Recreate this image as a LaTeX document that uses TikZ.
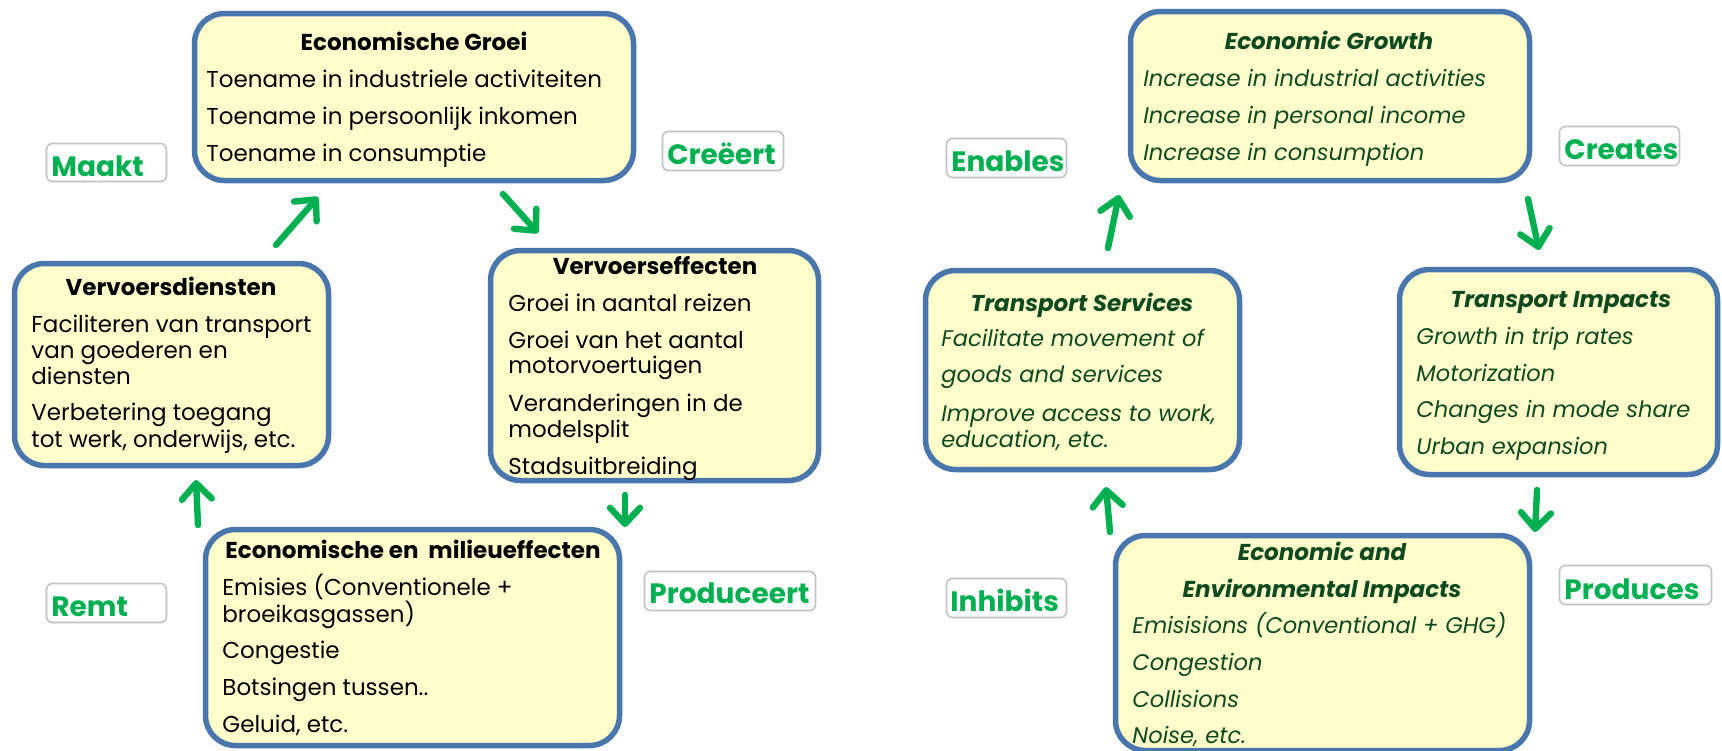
\documentclass[tikz,border=0pt]{standalone}
\usepackage{fontspec}
\setmainfont{Poppins}
\usetikzlibrary{arrows.meta}
\definecolor{boxfill}{RGB}{255,255,204}
\definecolor{boxline}{RGB}{74,118,174}
\definecolor{lblgreen}{RGB}{0,176,80}
\definecolor{dkgreen}{RGB}{16,72,32}
\definecolor{lblline}{RGB}{195,195,195}
\newcommand{\boxat}[6]{%
  \node[#1, minimum width={(#5-#3)*0.5pt-2.5pt}, minimum height={(#6-#4)*0.5pt-2.5pt}] (#2) at ({(#3+#5)/2},{(#4+#6)/2}) {};}
\tikzset{
  bigbox/.style={draw=boxline, line width=2.75pt, fill=boxfill, rounded corners=15pt, inner sep=0pt},
  lblbox/.style={draw=lblline, line width=0.8pt, fill=white, rounded corners=3pt, inner sep=0pt},
  body/.style={anchor=base west, inner sep=0pt, font=\fontsize{11.5}{14}\selectfont, text=black},
  rbody/.style={anchor=base west, inner sep=0pt, font=\fontsize{11.3}{14}\selectfont\itshape, text=dkgreen},
  ttl/.style={anchor=base, inner sep=0pt, font=\fontsize{11.5}{14}\selectfont\bfseries, text=black},
  rttl/.style={anchor=base, inner sep=0pt, font=\fontsize{11.5}{14}\selectfont\bfseries\itshape, text=dkgreen},
  lbltext/.style={anchor=base west, inner sep=0pt, font=\fontsize{14}{16}\selectfont\bfseries, text=lblgreen},
  garrow/.style={draw=lblgreen, line width=3.2pt, line cap=round, -{Straight Barb[length=8pt,width=15pt,round]}}
}
\begin{document}
\begin{tikzpicture}[x=0.5pt,y=-0.5pt]
\fill[white] (0,0) rectangle (1722,750);
\path[use as bounding box] (0,0) rectangle (1722,750);

% ---------------- LEFT DIAGRAM ----------------
\boxat{bigbox}{eg}{192}{11}{636}{183}
\node[ttl] (egT) at (414,50) {Economische Groei};
\node[body] (eg1) at (206,87) {Toename in industriele activiteiten};
\node[body] (eg2) at (206,124) {Toename in persoonlijk inkomen};
\node[body] (eg3) at (206,161) {Toename in consumptie};

\boxat{bigbox}{vd}{12}{261}{331}{468}
\node[ttl] (vdT) at (171,295) {Vervoersdiensten};
\node[body] (vd1) at (31,332) {Faciliteren van transport};
\node[body] (vd2) at (31,358) {van goederen en};
\node[body] (vd3) at (31,384) {diensten};
\node[body] (vd4) at (31,420) {Verbetering toegang};
\node[body] (vd5) at (31,447) {tot werk, onderwijs, etc.};

\boxat{bigbox}{ve}{488}{248}{821}{483}
\node[ttl] (veT) at (655,274) {Vervoerseffecten};
\node[body] (ve1) at (508,311) {Groei in aantal reizen};
\node[body] (ve2) at (508,348) {Groei van het aantal};
\node[body] (ve3) at (508,373) {motorvoertuigen};
\node[body] (ve4) at (508,411) {Veranderingen in de};
\node[body] (ve5) at (508,437) {modelsplit};
\node[body] (ve6) at (508,474) {Stadsuitbreiding};

\boxat{bigbox}{em}{203}{527}{622}{748}
\node[ttl] (emT) at (413,558) {Economische en\ \ milieueffecten};
\node[body] (em1) at (222,595) {Emisies (Conventionele +};
\node[body] (em2) at (222,622) {broeikasgassen)};
\node[body] (em3) at (222,658) {Congestie};
\node[body] (em4) at (222,695) {Botsingen tussen..};
\node[body] (em5) at (222,732) {Geluid, etc.};

\boxat{lblbox}{lMaakt}{44}{141}{169}{184}
\node[lbltext] (tMaakt) at (51,176) {Maakt};
\boxat{lblbox}{lCreeert}{660}{129}{786}{173}
\node[lbltext] (tCreeert) at (667,164) {Creëert};
\boxat{lblbox}{lRemt}{44}{581}{169}{625}
\node[lbltext] (tRemt) at (51,616) {Remt};
\boxat{lblbox}{lProd}{642}{569}{818}{613}
\node[lbltext] (tProd) at (649,603) {Produceert};

\coordinate (a1s) at (276,245); \coordinate (a1e) at (318,197);
\coordinate (a2s) at (503,194); \coordinate (a2e) at (538,233);
\coordinate (a3s) at (625,495); \coordinate (a3e) at (625,527);
\coordinate (a4s) at (198,525); \coordinate (a4e) at (196,480);
\draw[garrow] (a1s) -- (a1e);
\draw[garrow] (a2s) -- (a2e);
\draw[garrow] (a3s) -- (a3e);
\draw[garrow] (a4s) -- (a4e);

% ---------------- RIGHT DIAGRAM ----------------
\boxat{bigbox}{rg}{1128}{9}{1532}{183}
\node[rttl] (rgT) at (1329,49) {Economic Growth};
\node[rbody] (rg1) at (1143,86) {Increase in industrial activities};
\node[rbody] (rg2) at (1143,123) {Increase in personal income};
\node[rbody] (rg3) at (1143,160) {Increase in consumption};

\boxat{bigbox}{ts}{923}{268}{1242}{472}
\node[rttl] (tsT) at (1082,311) {Transport Services};
\node[rbody] (ts1) at (941,346) {Facilitate movement of};
\node[rbody] (ts2) at (941,382) {goods and services};
\node[rbody] (ts3) at (941,421) {Improve access to work,};
\node[rbody] (ts4) at (941,447) {education, etc.};

\boxat{bigbox}{ti}{1397}{267}{1720}{477}
\node[rttl] (tiT) at (1561,307) {Transport Impacts};
\node[rbody] (ti1) at (1416,344) {Growth in trip rates};
\node[rbody] (ti2) at (1416,381) {Motorization};
\node[rbody] (ti3) at (1416,417) {Changes in mode share};
\node[rbody] (ti4) at (1416,454) {Urban expansion};

\boxat{bigbox}{ee}{1113}{533}{1532}{753}
\node[rttl] (eeT1) at (1322,560) {Economic and};
\node[rttl] (eeT2) at (1322,597) {Environmental Impacts};
\node[rbody] (ee1) at (1132,633) {Emisisions (Conventional + GHG)};
\node[rbody] (ee2) at (1132,670) {Congestion};
\node[rbody] (ee3) at (1132,707) {Collisions};
\node[rbody] (ee4) at (1132,743) {Noise, etc.};

\boxat{lblbox}{lEnab}{944}{136}{1069}{180}
\node[lbltext] (tEnab) at (951,171) {Enables};
\boxat{lblbox}{lCrea}{1557}{124}{1682}{168}
\node[lbltext] (tCrea) at (1564,159) {Creates};
\boxat{lblbox}{lInh}{944}{576}{1069}{620}
\node[lbltext] (tInh) at (950,611) {Inhibits};
\boxat{lblbox}{lProds}{1557}{563}{1714}{607}
\node[lbltext] (tProds) at (1564,599) {Produces};

\coordinate (b1s) at (1108,248); \coordinate (b1e) at (1119,195);
\coordinate (b2s) at (1528,199); \coordinate (b2e) at (1539,250);
\coordinate (b3s) at (1537,490); \coordinate (b3e) at (1535,532);
\coordinate (b4s) at (1110,532); \coordinate (b4e) at (1106,487);
\draw[garrow] (b1s) -- (b1e);
\draw[garrow] (b2s) -- (b2e);
\draw[garrow] (b3s) -- (b3e);
\draw[garrow] (b4s) -- (b4e);
\end{tikzpicture}
\end{document}
